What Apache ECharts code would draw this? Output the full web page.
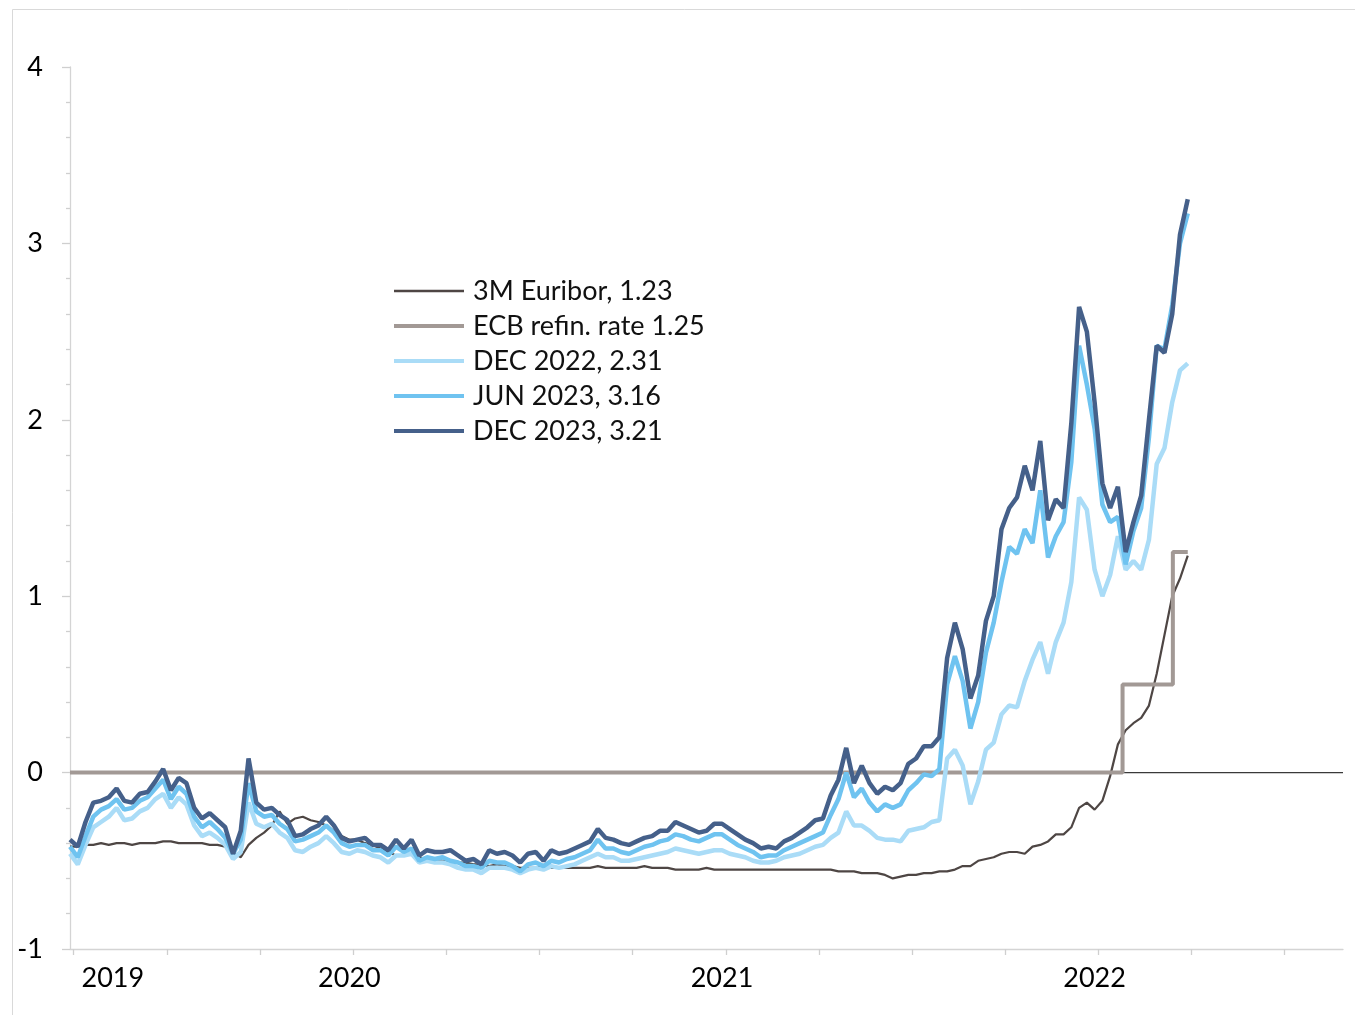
<!DOCTYPE html>
<html><head><meta charset="utf-8">
<script src="https://cdn.jsdelivr.net/npm/echarts@6/dist/echarts.min.js"></script>
<style>html,body{margin:0;padding:0;background:#fff}#c{width:1355px;height:1015px}</style>
</head><body><div id="c"></div>
<script>
// x positions are in months from the start of the axis; samples every quarter-month
const sampleStep = 0.25;

const euribor = [
 -0.42,-0.42,-0.41,-0.41,-0.40,-0.41,-0.40,-0.40,-0.41,-0.40,
 -0.40,-0.40,-0.39,-0.39,-0.40,-0.40,-0.40,-0.40,-0.41,-0.41,
 -0.42,-0.45,-0.48,-0.41,-0.37,-0.34,-0.30,-0.22,-0.29,-0.26,
 -0.25,-0.27,-0.28,-0.30,-0.33,-0.36,-0.38,-0.38,-0.40,-0.41,
 -0.43,-0.45,-0.47,-0.47,-0.46,-0.48,-0.49,-0.49,-0.50,-0.50,
 -0.51,-0.51,-0.52,-0.52,-0.53,-0.52,-0.53,-0.53,-0.54,-0.54,
 -0.54,-0.53,-0.54,-0.54,-0.54,-0.54,-0.54,-0.54,-0.53,-0.54,
 -0.54,-0.54,-0.54,-0.54,-0.53,-0.54,-0.54,-0.54,-0.55,-0.55,
 -0.55,-0.55,-0.54,-0.55,-0.55,-0.55,-0.55,-0.55,-0.55,-0.55,
 -0.55,-0.55,-0.55,-0.55,-0.55,-0.55,-0.55,-0.55,-0.55,-0.56,
 -0.56,-0.56,-0.57,-0.57,-0.57,-0.58,-0.60,-0.59,-0.58,-0.58,
 -0.57,-0.57,-0.56,-0.56,-0.55,-0.53,-0.53,-0.50,-0.49,-0.48,
 -0.46,-0.45,-0.45,-0.46,-0.42,-0.41,-0.39,-0.35,-0.35,-0.31,
 -0.20,-0.17,-0.21,-0.16,-0.02,0.16,0.24,0.28,0.31,0.38,
 0.56,0.78,1.00,1.10,1.23
];

const dec22 = [
 -0.46,-0.52,-0.41,-0.31,-0.28,-0.25,-0.20,-0.27,-0.26,-0.22,
 -0.20,-0.15,-0.12,-0.20,-0.14,-0.18,-0.30,-0.36,-0.34,-0.37,
 -0.41,-0.49,-0.45,-0.17,-0.29,-0.31,-0.29,-0.34,-0.37,-0.44,
 -0.45,-0.42,-0.40,-0.36,-0.40,-0.45,-0.46,-0.44,-0.45,-0.47,
 -0.48,-0.51,-0.47,-0.47,-0.46,-0.51,-0.50,-0.51,-0.51,-0.52,
 -0.54,-0.55,-0.55,-0.57,-0.54,-0.54,-0.54,-0.55,-0.57,-0.55,
 -0.54,-0.55,-0.53,-0.54,-0.53,-0.52,-0.50,-0.48,-0.46,-0.48,
 -0.48,-0.50,-0.50,-0.49,-0.48,-0.47,-0.46,-0.45,-0.43,-0.44,
 -0.45,-0.46,-0.45,-0.44,-0.44,-0.46,-0.47,-0.48,-0.50,-0.51,
 -0.51,-0.50,-0.48,-0.47,-0.46,-0.44,-0.42,-0.41,-0.37,-0.34,
 -0.22,-0.30,-0.30,-0.33,-0.37,-0.38,-0.38,-0.39,-0.33,-0.32,
 -0.31,-0.28,-0.27,0.08,0.13,0.04,-0.18,-0.05,0.13,0.17,
 0.33,0.38,0.37,0.52,0.64,0.74,0.56,0.74,0.85,1.08,
 1.56,1.49,1.15,1.00,1.12,1.34,1.15,1.20,1.15,1.32,
 1.75,1.84,2.10,2.28,2.32
];

const jun23 = [
 -0.42,-0.48,-0.36,-0.25,-0.21,-0.19,-0.15,-0.21,-0.20,-0.16,
 -0.14,-0.09,-0.04,-0.15,-0.08,-0.12,-0.25,-0.31,-0.28,-0.32,
 -0.37,-0.46,-0.38,-0.06,-0.22,-0.25,-0.24,-0.29,-0.32,-0.39,
 -0.38,-0.36,-0.34,-0.30,-0.34,-0.40,-0.42,-0.41,-0.41,-0.44,
 -0.44,-0.47,-0.42,-0.45,-0.43,-0.50,-0.48,-0.49,-0.48,-0.50,
 -0.51,-0.53,-0.53,-0.54,-0.50,-0.51,-0.51,-0.53,-0.56,-0.52,
 -0.51,-0.53,-0.50,-0.51,-0.49,-0.48,-0.46,-0.44,-0.38,-0.43,
 -0.43,-0.45,-0.46,-0.44,-0.42,-0.41,-0.39,-0.38,-0.35,-0.36,
 -0.38,-0.39,-0.37,-0.35,-0.35,-0.38,-0.41,-0.43,-0.45,-0.48,
 -0.47,-0.47,-0.44,-0.42,-0.40,-0.38,-0.36,-0.34,-0.24,-0.15,
 0.00,-0.14,-0.09,-0.17,-0.22,-0.18,-0.20,-0.18,-0.10,-0.06,
 -0.01,-0.02,0.02,0.50,0.66,0.52,0.25,0.40,0.68,0.85,
 1.08,1.28,1.24,1.38,1.30,1.60,1.22,1.34,1.42,1.76,
 2.42,2.20,1.95,1.52,1.42,1.45,1.18,1.37,1.50,1.90,
 2.42,2.40,2.65,3.00,3.17
];

const dec23 = [
 -0.38,-0.42,-0.28,-0.17,-0.16,-0.14,-0.09,-0.16,-0.17,-0.12,
 -0.11,-0.05,0.02,-0.10,-0.03,-0.06,-0.20,-0.26,-0.23,-0.27,
 -0.31,-0.46,-0.33,0.08,-0.17,-0.21,-0.20,-0.24,-0.27,-0.36,
 -0.35,-0.32,-0.30,-0.25,-0.30,-0.37,-0.39,-0.38,-0.37,-0.41,
 -0.41,-0.44,-0.38,-0.43,-0.38,-0.47,-0.44,-0.45,-0.45,-0.44,
 -0.47,-0.50,-0.49,-0.52,-0.44,-0.46,-0.45,-0.47,-0.51,-0.46,
 -0.45,-0.50,-0.44,-0.46,-0.45,-0.43,-0.41,-0.39,-0.32,-0.37,
 -0.38,-0.40,-0.41,-0.39,-0.37,-0.36,-0.33,-0.33,-0.28,-0.30,
 -0.32,-0.34,-0.33,-0.29,-0.29,-0.32,-0.35,-0.38,-0.40,-0.43,
 -0.42,-0.43,-0.39,-0.37,-0.34,-0.31,-0.27,-0.26,-0.13,-0.04,
 0.14,-0.06,0.04,-0.06,-0.12,-0.08,-0.10,-0.06,0.05,0.08,
 0.15,0.15,0.20,0.65,0.85,0.70,0.42,0.55,0.86,1.00,
 1.38,1.50,1.56,1.74,1.60,1.88,1.43,1.55,1.50,1.98,
 2.64,2.50,2.10,1.64,1.50,1.62,1.25,1.42,1.57,2.00,
 2.42,2.38,2.60,3.05,3.25
];

// ECB refinancing rate steps (x in months, y in %)
const ecbX = [0, 33.9, 33.9, 35.52, 35.52, 36];
const ecbY = [0, 0, 0.5, 0.5, 1.25, 1.25];

const seriesNames = ['3M Euribor, 1.23', 'ECB refin. rate 1.25', 'DEC 2022, 2.31', 'JUN 2023, 3.16', 'DEC 2023, 3.21'];
const yearLabels = ['2019', '2020', '2021', '2022'];
const yearLabelPos = [1.38, 9.0, 21.0, 33.0];
const tickPos = [0.12, 3.12, 6.12, 9.12, 12.12, 15.12, 18.12, 21.12, 24.12, 27.12, 30.12, 33.12, 36.12, 39.12];

const xs = euribor.map((_, i) => i * sampleStep);
const pair = arr => arr.map((v, i) => [xs[i], v]);

const FONT = 'Lato';
const chart = echarts.init(document.getElementById('c'), null, {renderer: 'canvas'});
const lineColors = ['#4e4644', '#a29995', '#aadcf7', '#6fc3f0', '#45608a'];
const lineWidths = [2.2, 4, 4.5, 4.5, 4.5];
const legendWidths = [2.5, 4, 4, 4, 4];
const hidden = 'rgba(0,0,0,0)';

chart.setOption({
  animation: false,
  backgroundColor: '#fff',
  textStyle: {fontFamily: FONT},
  graphic: [{
    type: 'rect', silent: true, z: -10,
    shape: {x: 12.5, y: 9.5, width: 1400, height: 1100},
    style: {fill: 'none', stroke: '#d9d9d9', lineWidth: 1}
  }],
  grid: {left: 70, right: 12, top: 67, bottom: 66, containLabel: false},
  legend: {
    orient: 'vertical', left: 392, top: 277, padding: 0,
    itemWidth: 70, itemHeight: 14, itemGap: 7,
    textStyle: {fontFamily: FONT, fontSize: 27, color: '#111', lineHeight: 28, padding: [0, 0, 0, 4]},
    data: seriesNames.map((n, i) => ({
      name: n,
      lineStyle: {width: legendWidths[i], color: lineColors[i]},
      itemStyle: {color: hidden, borderColor: hidden, borderWidth: 0, opacity: 0}
    })),
    selectedMode: false
  },
  xAxis: {
    type: 'value', min: 0, max: 41,
    axisLine: {show: true, onZero: false, lineStyle: {color: '#d4d4d4', width: 1.3}},
    splitLine: {show: false},
    axisTick: {show: true, customValues: tickPos, length: 6, lineStyle: {color: '#cfcfcf', width: 1.3}},
    axisLabel: {
      customValues: yearLabelPos, margin: 16,
      fontFamily: FONT, fontSize: 27, color: '#000',
      formatter: v => { const k = yearLabelPos.indexOf(v); return k >= 0 ? yearLabels[k] : ''; }
    }
  },
  yAxis: {
    type: 'value', min: -1, max: 4, interval: 1,
    axisLine: {show: true, lineStyle: {color: '#d4d4d4', width: 1.3}},
    axisTick: {show: true, length: 8, lineStyle: {color: '#cfcfcf', width: 1.3}},
    minorTick: {show: true, splitNumber: 5, length: 4, lineStyle: {color: '#cfcfcf', width: 1.3}},
    splitLine: {show: false},
    axisLabel: {margin: 27, fontFamily: FONT, fontSize: 27, color: '#000'}
  },
  series: [
    {name: 'zero', type: 'line', data: [[0, 0], [41, 0]], symbol: 'none', silent: true,
     lineStyle: {color: '#3a3a3a', width: 1.3}, z: 1},
    {name: seriesNames[0], type: 'line', data: pair(euribor), symbol: 'none',
     itemStyle: {color: lineColors[0]}, lineStyle: {color: lineColors[0], width: lineWidths[0]}, z: 2},
    {name: seriesNames[1], type: 'line', data: ecbX.map((x, i) => [x, ecbY[i]]), symbol: 'none',
     itemStyle: {color: lineColors[1]}, lineStyle: {color: lineColors[1], width: lineWidths[1]}, z: 3},
    {name: seriesNames[2], type: 'line', data: pair(dec22), symbol: 'none',
     itemStyle: {color: lineColors[2]}, lineStyle: {color: lineColors[2], width: lineWidths[2]}, z: 4},
    {name: seriesNames[3], type: 'line', data: pair(jun23), symbol: 'none',
     itemStyle: {color: lineColors[3]}, lineStyle: {color: lineColors[3], width: lineWidths[3]}, z: 5},
    {name: seriesNames[4], type: 'line', data: pair(dec23), symbol: 'none',
     itemStyle: {color: lineColors[4]}, lineStyle: {color: lineColors[4], width: lineWidths[4]}, z: 6}
  ]
});
</script></body></html>
